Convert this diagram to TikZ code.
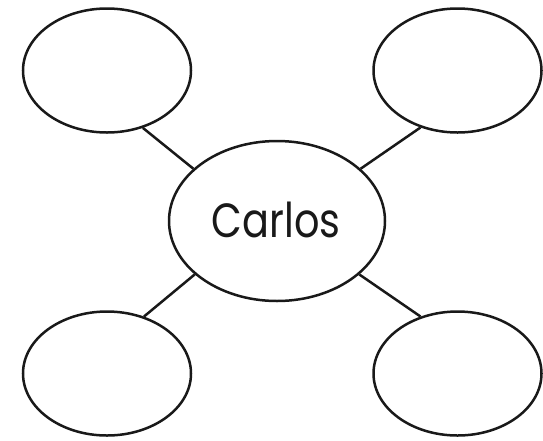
\documentclass[tikz,border=0pt]{standalone}
\usepackage{fontspec}
\usepackage{graphicx}
\usetikzlibrary{shapes.geometric}
\newfontfamily\labelfont{Poppins}
\tikzset{
  bubble/.style={ellipse, draw=black!90, line width=2.5pt, inner sep=0pt, minimum width=168pt, minimum height=124pt},
  hub/.style={ellipse, draw=black!90, line width=2.5pt, inner sep=0pt, minimum width=216pt, minimum height=160pt},
  link/.style={draw=black!90, line width=2.5pt},
  lbl/.style={font=\labelfont\fontsize{48}{48}\selectfont, text=black!90, inner sep=0pt, anchor=base}
}
\begin{document}
\begin{tikzpicture}[x=1pt,y=-1pt]
\useasboundingbox (0,0) rectangle (543,440);
\node[hub] (c) at (277,221) {};
\node[lbl] (t) at (276,237) {\scalebox{0.83}[1]{Carlos}};
\node[bubble] (tl) at (107,70.5) {};
\node[bubble] (tr) at (457.5,70.5) {};
\node[bubble] (bl) at (107,373.5) {};
\node[bubble] (br) at (457.5,373.5) {};
\draw[link] (tl.-58) -- (c.148.7);
\draw[link] (tr.-123.8) -- (c.32.9);
\draw[link] (bl.57.7) -- (c.-147.6);
\draw[link] (br.123.6) -- (c.-33.2);
\end{tikzpicture}
\end{document}
